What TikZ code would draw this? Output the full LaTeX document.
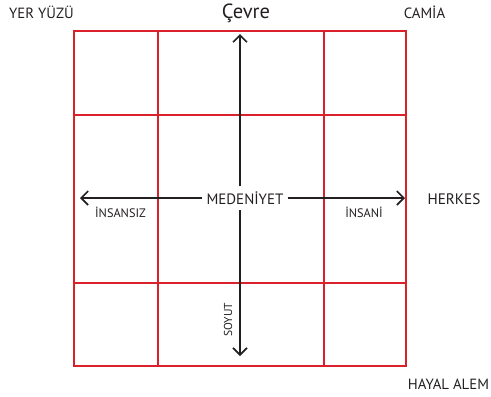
\documentclass[tikz,border=0pt]{standalone}
\usepackage{fontspec}
\setmainfont{PT Sans}
\usetikzlibrary{arrows.meta}
\definecolor{gridred}{HTML}{D9202B}
\definecolor{ink}{HTML}{231F20}
\tikzset{
  gridline/.style={draw=gridred, line width=2pt},
  axis/.style={draw=ink, line width=1.6pt, -{Straight Barb[length=7pt,width=14pt,line width=1.6pt]}},
  corner/.style={text=ink, font=\fontsize{14.8}{16}\selectfont, inner sep=0pt},
  small/.style={text=ink, font=\fontsize{12.3}{14}\selectfont, inner sep=0pt},
}
\begin{document}
\begin{tikzpicture}[x=1pt,y=-1pt]
\useasboundingbox (0,0) rectangle (491,397);
% grid
\draw[gridline] (74,31) rectangle (406,366);
\draw[gridline] (158,31) -- (158,366);
\draw[gridline] (324,31) -- (324,366);
\draw[gridline] (74,115) -- (406,115);
\draw[gridline] (74,283) -- (406,283);
% centre and ends
\node[text=ink, font=\fontsize{15}{17}\selectfont, fill=white, inner xsep=4pt, inner ysep=5pt] (med) at (245,198) {MEDENİYET};
\coordinate (top) at (240,34);
\coordinate (bot) at (240,356);
\coordinate (lft) at (80,198);
\coordinate (rgt) at (405,198);
\draw[axis] (med.north -| top) -- (top);
\draw[axis] (med.south -| bot) -- (bot);
\draw[axis] (med.west |- lft) -- (lft);
\draw[axis] (med.east |- rgt) -- (rgt);
% labels
\node[text=ink, font=\fontsize{20.5}{22}\selectfont, inner sep=0pt] (cevre) at (246,13) {Çevre};
\node[corner] (yer) at (41.5,12) {YER YÜZÜ};
\node[corner] (camia) at (424.5,12) {CAMİA};
\node[corner, font=\fontsize{15.2}{17}\selectfont] (herkes) at (454,199) {HERKES};
\node[corner] (hayal) at (448.5,384) {HAYAL ALEM};
\node[small] (insansiz) at (120.5,212) {İNSANSIZ};
\node[small] (insani) at (364,212) {İNSANİ};
\node[small, font=\fontsize{11.5}{13}\selectfont, rotate=90] (soyut) at (228,320) {SOYUT};
\end{tikzpicture}
\end{document}
